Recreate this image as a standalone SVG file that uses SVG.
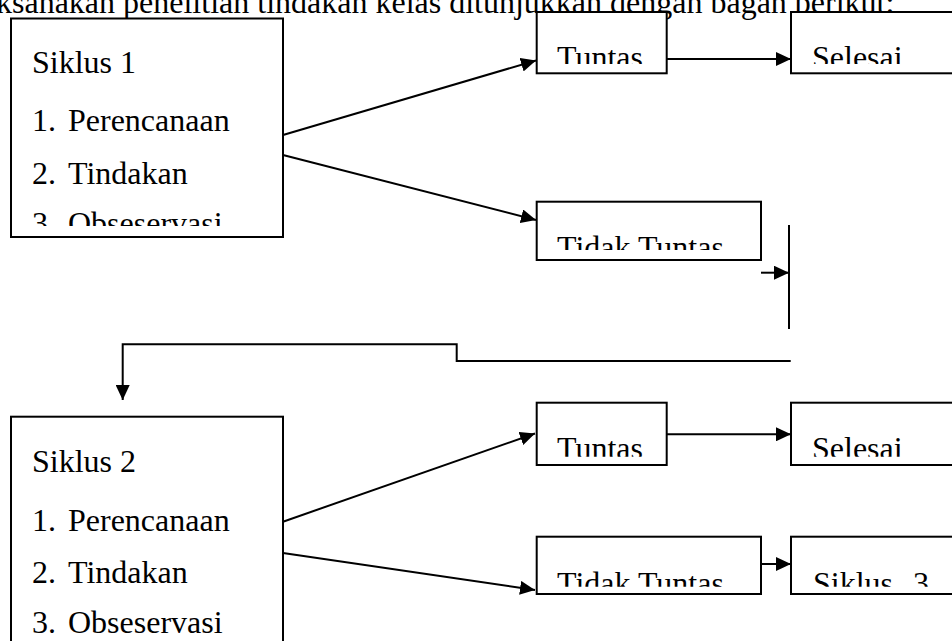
<svg xmlns="http://www.w3.org/2000/svg" width="952" height="641" viewBox="0 0 952 641">
<style>
  .box { fill: #fff; stroke: #000; stroke-width: 2; }
  .t { font-family: "Liberation Serif", "Times New Roman", serif; font-size: 32px; fill: #000; }
  .c { fill: none; stroke: #000; stroke-width: 2; }
</style>
<defs>
  <marker id="ah" markerUnits="userSpaceOnUse" markerWidth="16" markerHeight="14" refX="15" refY="7" orient="auto">
    <path d="M0,0 L15,7 L0,14 Z" fill="#000"/>
  </marker>
  <clipPath id="cs1"><rect x="12" y="20" width="270" height="206"/></clipPath>
  <clipPath id="ct1"><rect x="538" y="13" width="128" height="51"/></clipPath>
  <clipPath id="cse1"><rect x="792" y="13" width="160" height="51"/></clipPath>
  <clipPath id="ctt1"><rect x="538" y="203" width="222" height="47"/></clipPath>
  <clipPath id="ct2"><rect x="538" y="404" width="128" height="52.7"/></clipPath>
  <clipPath id="cse2"><rect x="792" y="404" width="160" height="52.7"/></clipPath>
  <clipPath id="ctt2"><rect x="538" y="538" width="222" height="48.7"/></clipPath>
  <clipPath id="cs3"><rect x="792" y="538" width="160" height="48.7"/></clipPath>
</defs>
<rect x="0" y="0" width="952" height="641" fill="#fff"/>

<text class="t" x="-4" y="13">ksanakan penelitian tindakan kelas ditunjukkan dengan bagan berikut:</text>

<g id="siklus1">
  <rect class="box" x="11" y="18.5" width="272" height="218.5"/>
  <g clip-path="url(#cs1)">
    <text class="t" x="32" y="72.7">Siklus 1</text>
    <text class="t" x="32" y="131">1.<tspan x="68">Perencanaan</tspan></text>
    <text class="t" x="32" y="184">2.<tspan x="68">Tindakan</tspan></text>
    <text class="t" x="32" y="234">3.<tspan x="68">Obseservasi</tspan></text>
  </g>
</g>

<g id="tuntas1">
  <rect class="box" x="536.7" y="12" width="130" height="61.3"/>
  <text class="t" x="557" y="67.7" clip-path="url(#ct1)">Tuntas</text>
</g>

<g id="selesai1">
  <rect class="box" x="791" y="12" width="170" height="61.3"/>
  <text class="t" x="812" y="67.7" clip-path="url(#cse1)">Selesai</text>
</g>

<g id="tidaktuntas1">
  <rect class="box" x="536.7" y="201.7" width="224.3" height="58.3"/>
  <text class="t" x="557" y="258" clip-path="url(#ctt1)">Tidak Tuntas</text>
</g>

<g id="siklus2">
  <rect class="box" x="11" y="416.7" width="272" height="240"/>
  <text class="t" x="32" y="472">Siklus 2</text>
  <text class="t" x="32" y="530.7">1.<tspan x="68">Perencanaan</tspan></text>
  <text class="t" x="32" y="582.7">2.<tspan x="68">Tindakan</tspan></text>
  <text class="t" x="32" y="633">3.<tspan x="68">Obseservasi</tspan></text>
</g>

<g id="tuntas2">
  <rect class="box" x="536.7" y="402.7" width="130" height="62.3"/>
  <text class="t" x="557" y="459" clip-path="url(#ct2)">Tuntas</text>
</g>

<g id="selesai2">
  <rect class="box" x="791" y="402.7" width="170" height="62.3"/>
  <text class="t" x="812" y="459" clip-path="url(#cse2)">Selesai</text>
</g>

<g id="tidaktuntas2">
  <rect class="box" x="536.7" y="536.7" width="224.3" height="57.3"/>
  <text class="t" x="557" y="594" clip-path="url(#ctt2)">Tidak Tuntas</text>
</g>

<g id="siklus3">
  <rect class="box" x="791" y="536.7" width="170" height="57.3"/>
  <text class="t" x="813" y="594" clip-path="url(#cs3)">Siklus<tspan x="913">3</tspan></text>
</g>

<g id="connectors">
  <line class="c" x1="283" y1="135" x2="536" y2="60.5" marker-end="url(#ah)"/>
  <line class="c" x1="283" y1="155" x2="536" y2="220" marker-end="url(#ah)"/>
  <line class="c" x1="666.7" y1="59" x2="791" y2="59" marker-end="url(#ah)"/>
  <line class="c" x1="761" y1="272.7" x2="789" y2="272.7" marker-end="url(#ah)"/>
  <line class="c" x1="789" y1="225" x2="789" y2="329"/>
  <path class="c" d="M790.7,361 H456.7 V344.3 H122.7 V400" marker-end="url(#ah)"/>
  <line class="c" x1="283" y1="521.7" x2="535" y2="433.5" marker-end="url(#ah)"/>
  <line class="c" x1="283" y1="553" x2="535" y2="590" marker-end="url(#ah)"/>
  <line class="c" x1="666.7" y1="434.3" x2="791" y2="434.3" marker-end="url(#ah)"/>
  <line class="c" x1="761" y1="564" x2="791" y2="564" marker-end="url(#ah)"/>
</g>
</svg>
